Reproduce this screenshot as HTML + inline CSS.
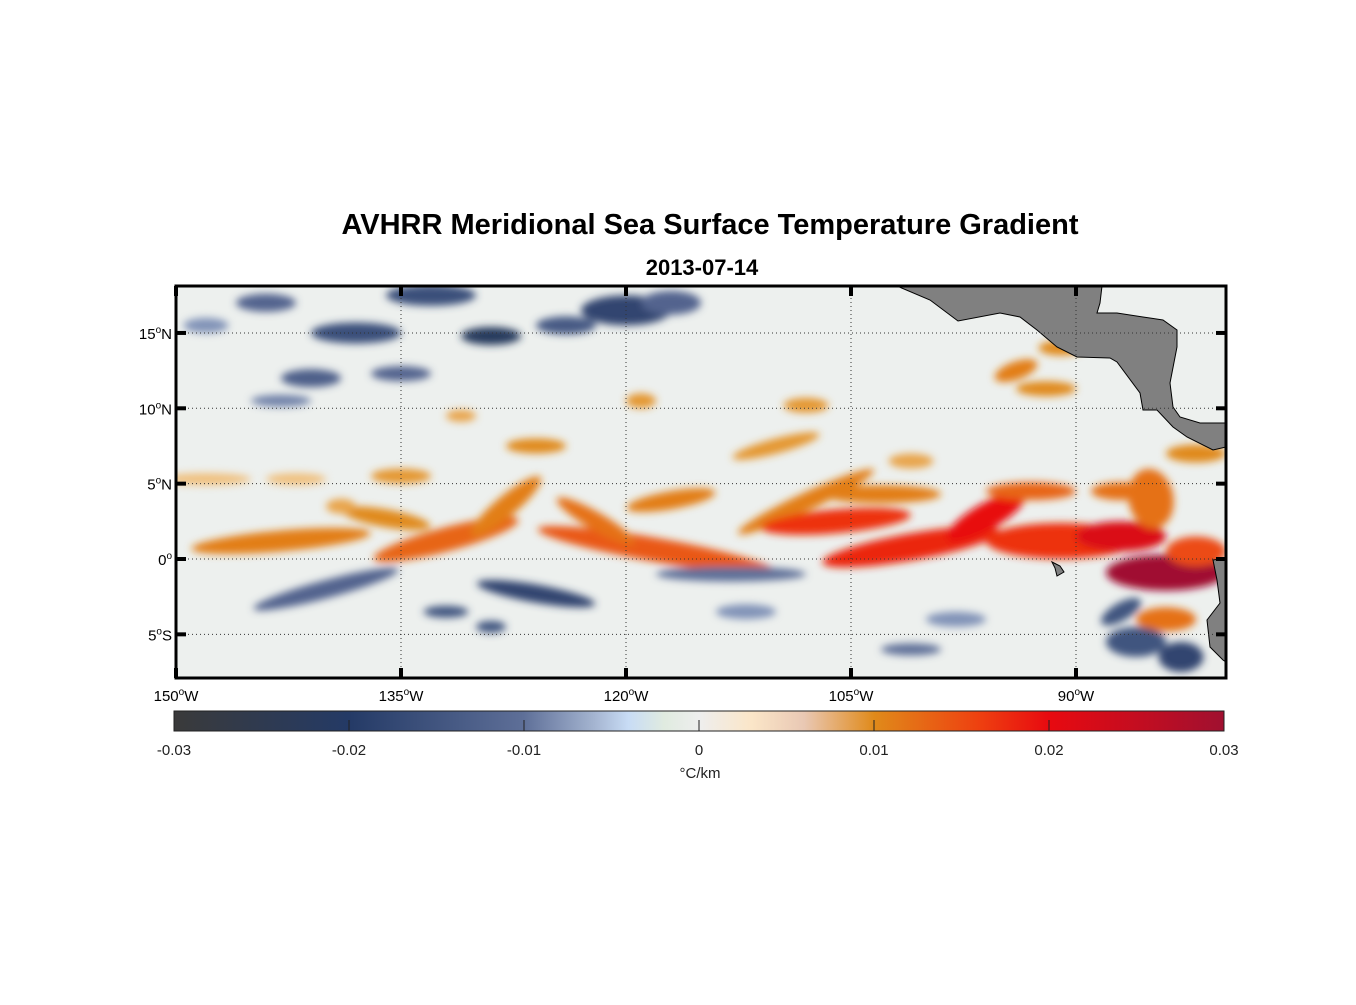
<!DOCTYPE html>
<html><head><meta charset="utf-8">
<style>
body{margin:0;background:#fff;}
svg text{font-family:"Liberation Sans",Arial,sans-serif;}
</style></head>
<body>
<svg id="fig" width="1356" height="1000" viewBox="0 0 1356 1000" xmlns="http://www.w3.org/2000/svg">
<defs>
<filter id="blur" x="-50%" y="-50%" width="200%" height="200%"><feGaussianBlur stdDeviation="4"/></filter>
<clipPath id="mapclip"><rect x="176" y="286" width="1050" height="392"/></clipPath>
<linearGradient id="cbgrad" x1="0" x2="1" y1="0" y2="0">
<stop offset="0" stop-color="#3a3a3a"/>
<stop offset="0.1667" stop-color="#243a66"/>
<stop offset="0.333" stop-color="#5e6f98"/>
<stop offset="0.40" stop-color="#a4b4d0"/>
<stop offset="0.433" stop-color="#c8dcf5"/>
<stop offset="0.467" stop-color="#e0ebe0"/>
<stop offset="0.5" stop-color="#eeeeee"/>
<stop offset="0.55" stop-color="#fbe6c8"/>
<stop offset="0.6" stop-color="#e9c8b4"/>
<stop offset="0.667" stop-color="#e08a1a"/>
<stop offset="0.767" stop-color="#ee4010"/>
<stop offset="0.833" stop-color="#e80a10"/>
<stop offset="1" stop-color="#a01030"/>
</linearGradient>
</defs>
<text x="710" y="234" text-anchor="middle" font-size="29" font-weight="bold">AVHRR Meridional Sea Surface Temperature Gradient</text>
<text x="702" y="275" text-anchor="middle" font-size="22" font-weight="bold">2013-07-14</text>
<g clip-path="url(#mapclip)">
<rect x="176" y="286" width="1050" height="392" fill="#edf0ee"/>
<g id="blobs" filter="url(#blur)"></g>
<path d="M897,286 L930,300 L958,321 L1000,313 L1020,317 L1037,330 L1057,347 L1077,357 L1110,358 L1117,362 L1140,393 L1143,410 L1157,410 L1173,427 L1187,437 L1213,450 L1226,447 L1226,423 L1200,423 L1180,417 L1173,407 L1170,383 L1177,347 L1177,330 L1163,320 L1143,317 L1117,313 L1097,313 L1100,303 L1102,286 Z" fill="#808080" stroke="#000" stroke-width="1"/>
<path d="M1226,558 L1213,560 L1217,580 L1220,603 L1207,620 L1210,647 L1223,660 L1226,662 Z" fill="#808080" stroke="#000" stroke-width="1"/>
<path d="M1052,562 L1060,566 L1064,572 L1057,576 L1055,568 Z" fill="#808080" stroke="#000" stroke-width="1"/>
<g id="grid"></g>
</g>
<rect x="176" y="286" width="1050" height="392" fill="none" stroke="#000" stroke-width="3"/>
<g id="axes"></g>
<rect x="174" y="711" width="1050" height="20" fill="url(#cbgrad)" stroke="#222" stroke-width="1"/>
<g id="cbticks"></g>
<text x="700" y="778" text-anchor="middle" font-size="15" fill="#222">°C/km</text>
</svg>
<script>
const lonTicks=[-150,-135,-120,-105,-90];
const lonLabels=["150","135","120","105","90"];
const latTicks=[15,10,5,0,-5];
const latLabels=["15","10","5","0","5"];
const latSuffix=["N","N","N","","S"];
const cbTicks=[-0.03,-0.02,-0.01,0,0.01,0.02,0.03];
const cbLabels=["-0.03","-0.02","-0.01","0","0.01","0.02","0.03"];
// features: lon, lat, half-length (deg), half-thickness (deg), angle, value
const fLon=[-143,-136,-132,-128,-118,-122,-117,-108,-106,-103,-101,-96,-93,-91,-87,-84,-82,-85,-126,-131,-119,-108,-110,-94,-91,-92,-101,-148,-142,-135,-139,-87,-82,-84,
-140,-126,-113,-132,-129,-138,-129,-120,-124,-133,-144,-141,-135,-143,-117,-86,-83,-87,-98,-112,-101,-148];
const fLat=[1.2,2.7,1.3,3.5,0.6,2.5,3.9,3.8,2.5,4.3,0.8,2.8,4.5,1.2,1.5,-0.9,0.5,4,7.5,9.5,10.5,10.2,7.5,12.5,14,11.3,6.5,5.3,5.3,5.5,3.5,4.5,7,-4,
-2,-2.3,-1,-3.5,-4.5,15,14.8,16.5,15.5,17.5,17,12,12.3,10.5,17,-5.5,-6.5,-3.5,-4,-3.5,-6,15.5];
const fLen=[6,3,5,3,8,3,3,5,5,4,6,3,3,5,3,4,2,2,2,1,1,1.5,3,1.5,1.5,2,1.5,3,2,2,1,2,2,2,
5,4,5,1.5,1,3,2,3,2,3,2,2,2,2,2,2,1.5,1.5,2,2,2,1.5];
const fThk=[0.7,0.6,0.8,0.7,0.8,0.6,0.6,0.6,0.8,0.6,0.9,0.9,0.6,1.2,1,1.2,1,1.5,0.5,0.4,0.5,0.5,0.5,0.6,0.5,0.5,0.5,0.4,0.4,0.5,0.5,0.6,0.6,0.8,
0.6,0.6,0.5,0.4,0.4,0.7,0.6,1,0.6,0.7,0.6,0.6,0.5,0.4,0.8,1,1,0.6,0.5,0.5,0.4,0.5];
const fAng=[-5,10,-15,-40,10,30,-10,-25,-5,0,-10,-30,0,0,0,0,0,80,0,0,0,0,-15,-20,0,0,0,0,0,0,0,0,0,0,
-15,10,0,0,0,0,0,0,0,0,0,0,0,0,0,0,0,-30,0,0,0,0];
const fVal=[0.011,0.01,0.013,0.011,0.014,0.012,0.011,0.011,0.017,0.011,0.018,0.02,0.013,0.017,0.022,0.03,0.015,0.012,0.01,0.008,0.009,0.009,0.009,0.011,0.01,0.01,0.008,0.006,0.006,0.009,0.008,0.012,0.01,0.012,
-0.012,-0.018,-0.01,-0.015,-0.015,-0.016,-0.022,-0.018,-0.014,-0.016,-0.012,-0.013,-0.012,-0.009,-0.012,-0.015,-0.018,-0.015,-0.008,-0.008,-0.01,-0.008];

const X=lon=>176+(lon+150)*15;
const Y=lat=>559-lat*15.07;
const CB=v=>174+(v+0.03)/0.06*1050;
const NS="http://www.w3.org/2000/svg";
function mk(tag,attrs,parent){const e=document.createElementNS(NS,tag);for(const k in attrs)e.setAttribute(k,attrs[k]);parent.appendChild(e);return e;}
const stops=[[-0.03,[58,58,58]],[-0.02,[36,58,102]],[-0.01,[94,111,152]],[-0.004,[200,220,245]],[0,[238,238,238]],[0.003,[251,230,200]],[0.01,[224,138,26]],[0.016,[238,64,16]],[0.02,[232,10,16]],[0.03,[160,16,48]]];
function color(v){v=Math.max(-0.03,Math.min(0.03,v));for(let i=0;i<stops.length-1;i++){const[a,ca]=stops[i],[b,cb]=stops[i+1];if(v<=b){const t=(v-a)/(b-a);return"rgb("+ca.map((c,j)=>Math.round(c+(cb[j]-c)*t)).join(",")+")";}}return"rgb(160,16,48)";}
const blobs=document.getElementById('blobs');
for(let i=0;i<fLon.length;i++){
  const e=mk('ellipse',{cx:X(fLon[i]),cy:Y(fLat[i]),rx:fLen[i]*15,ry:fThk[i]*15,fill:color(fVal[i]),transform:`rotate(${fAng[i]} ${X(fLon[i])} ${Y(fLat[i])})`},blobs);
  
  
}
const grid=document.getElementById('grid');
lonTicks.forEach(l=>{const e=mk('line',{x1:X(l),x2:X(l),y1:286,y2:678,stroke:'#333','stroke-width':1,'stroke-dasharray':'1,3'},grid);

});
latTicks.forEach(l=>{const e=mk('line',{x1:176,x2:1226,y1:Y(l),y2:Y(l),stroke:'#333','stroke-width':1,'stroke-dasharray':'1,3'},grid);

});
const axes=document.getElementById('axes');
lonTicks.forEach((l,i)=>{
  [[286,296],[668,678]].forEach(([a,b])=>{const t=mk('line',{x1:X(l),x2:X(l),y1:a,y2:b,stroke:'#000','stroke-width':4},axes);
  
  });
  const tx=mk('text',{x:X(l),y:701,'text-anchor':'middle','font-size':15},axes);
  
  
  tx.innerHTML=lonLabels[i]+'<tspan dy="-6" font-size="10">o</tspan><tspan dy="6">W</tspan>';
});
latTicks.forEach((l,i)=>{
  [[176,186],[1216,1226]].forEach(([a,b])=>{const t=mk('line',{x1:a,x2:b,y1:Y(l),y2:Y(l),stroke:'#000','stroke-width':4},axes);
  
  });
  const tx=mk('text',{x:172,y:Y(l)+6,'text-anchor':'end','font-size':15},axes);
  
  
  tx.innerHTML=latLabels[i]+'<tspan dy="-6" font-size="10">o</tspan><tspan dy="6">'+latSuffix[i]+'</tspan>';
});
const cbt=document.getElementById('cbticks');
cbTicks.forEach((v,i)=>{
  if(i>0&&i<cbTicks.length-1){const t=mk('line',{x1:CB(v),x2:CB(v),y1:720,y2:731,stroke:'#222','stroke-width':1},cbt);
  
  }
  const tx=mk('text',{x:CB(v),y:755,'text-anchor':'middle','font-size':15,fill:'#222'},cbt);
  
  
  tx.textContent=cbLabels[i];
});
</script>
</body></html>
